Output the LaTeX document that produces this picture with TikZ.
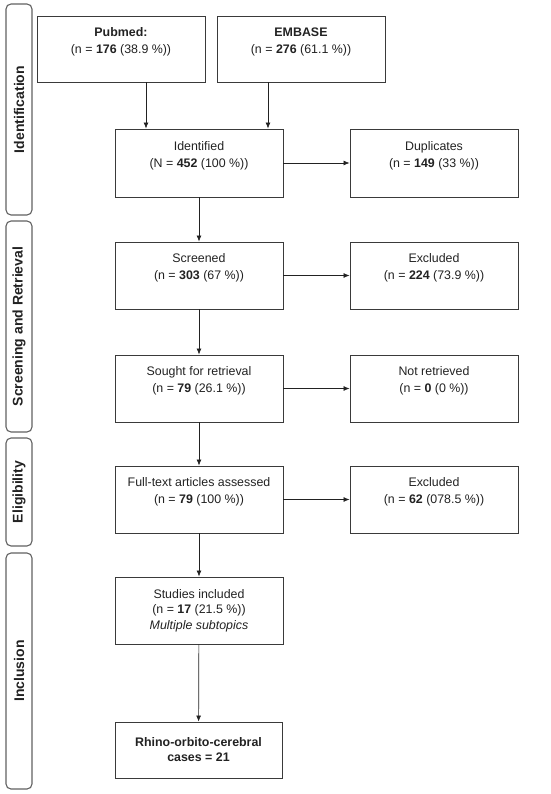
\documentclass[tikz,border=0pt]{standalone}
\usepackage{fontspec}
\setmainfont{Liberation Sans}
\usetikzlibrary{arrows.meta}
\definecolor{ink}{HTML}{222222}
\definecolor{edge}{HTML}{3A3A3A}
\tikzset{
  box/.style={draw=edge, line width=0.9pt, text=ink, align=center, inner sep=0pt,
    minimum width=168pt, minimum height=67pt,
    font=\fontsize{12.4}{17}\selectfont},
  band/.style={draw=edge!80, line width=1.1pt, rounded corners=5pt, inner sep=0pt,
    minimum width=26pt},
  bandtext/.style={rotate=90, text=ink, font=\bfseries\fontsize{14}{16}\selectfont},
  arr/.style={draw=ink, line width=0.7pt, -{Latex[length=6pt,width=5pt]}}
}
\begin{document}
\begin{tikzpicture}[x=1pt,y=-1pt]
\useasboundingbox (0,0) rectangle (550,794);
% side bands
\node[band, minimum height=211pt] (b1) at (19,109.5) {};
\node[bandtext] (t1) at (b1.center) {Identification};
\node[band, minimum height=211pt] (b2) at (19,326.5) {};
\node[bandtext] (t2) at (b2.center) {Screening and Retrieval};
\node[band, minimum height=108pt] (b3) at (19,492) {};
\node[bandtext] (t3) at (b3.center) {Eligibility};
\node[band, minimum height=236pt] (b4) at (19,671) {};
\node[bandtext] (t4) at (b4.center) {Inclusion};
% boxes
\node[box, minimum height=66pt] (pub) at (121,49) {\textbf{Pubmed:}\\(n = \textbf{176} (38.9 \%))\\\mbox{}};
\node[box, minimum height=66pt] (emb) at (301,49) {\textbf{EMBASE}\\(n = \textbf{276} (61.1 \%))\\\mbox{}};
\node[box, minimum height=68pt] (ident) at (199,163) {Identified\\(N = \textbf{452} (100 \%))\\\mbox{}};
\node[box, minimum height=68pt] (dup) at (434,163) {Duplicates\\(n = \textbf{149} (33 \%))\\\mbox{}};
\node[box] (scr) at (199,275.5) {Screened\\(n = \textbf{303} (67 \%))\\\mbox{}};
\node[box] (exc1) at (434,275.5) {Excluded\\(n = \textbf{224} (73.9 \%))\\\mbox{}};
\node[box] (sou) at (199,388.5) {Sought for retrieval\\(n = \textbf{79} (26.1 \%))\\\mbox{}};
\node[box] (notr) at (434,388.5) {Not retrieved\\(n = \textbf{0} (0 \%))\\\mbox{}};
\node[box] (full) at (199,499.5) {Full-text articles assessed\\(n = \textbf{79} (100 \%))\\\mbox{}};
\node[box] (exc2) at (434,499.5) {Excluded\\(n = \textbf{62} (078.5 \%))\\\mbox{}};
\node[box, font=\fontsize{12.4}{15.5}\selectfont] (stud) at (199,610.5) {Studies included\\(n = \textbf{17} (21.5 \%))\\\textit{Multiple subtopics}};
\node[box, minimum width=167pt, minimum height=56pt, font=\bfseries\fontsize{12.4}{15}\selectfont] (rhino) at (198.5,750) {Rhino-orbito-cerebral\\cases = 21};
% arrows
\coordinate (p1) at ([xshift=25pt]pub.south);
\coordinate (e1) at ([xshift=-33pt]emb.south);
\draw[arr] (p1) -- (p1 |- ident.north);
\draw[arr] (e1) -- (e1 |- ident.north);
\draw[arr] (ident) -- (dup);
\draw[arr] (ident) -- (scr);
\draw[arr] (scr) -- (exc1);
\draw[arr] (scr) -- (sou);
\draw[arr] (sou) -- (notr);
\draw[arr] (sou) -- (full);
\draw[arr] (full) -- (exc2);
\draw[arr] (full) -- (stud);
\draw[arr] (stud) -- (rhino);
\end{tikzpicture}
\end{document}
